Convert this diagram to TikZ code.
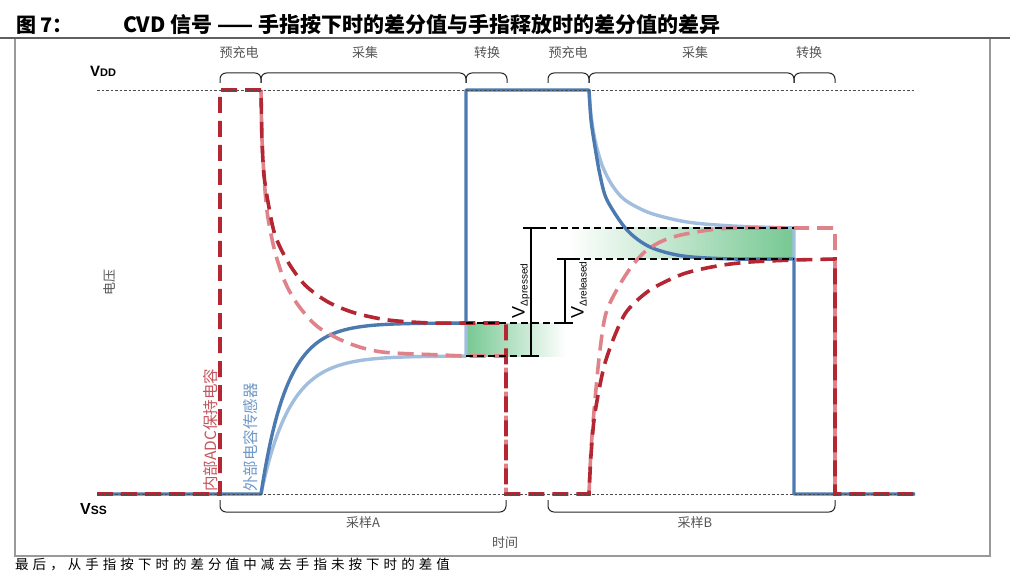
\documentclass[tikz,border=0pt]{standalone}
\usepackage{fontspec}
\setmainfont{Liberation Sans}
\newfontfamily\cjk{Noto Sans CJK SC}
\definecolor{redD}{RGB}{180,38,50}
\definecolor{redL}{RGB}{224,130,138}
\definecolor{blueD}{RGB}{76,122,176}
\definecolor{blueL}{RGB}{162,190,222}
\definecolor{grn}{RGB}{118,200,146}
\definecolor{txtgray}{RGB}{85,85,85}
\definecolor{lblred}{RGB}{196,84,92}
\definecolor{lblblue}{RGB}{112,152,200}
\tikzset{
  reddash/.style={line width=3.6pt, dash pattern=on 16pt off 8pt},
  bluesolid/.style={line width=3.4pt, line join=round},
  refline/.style={line width=0.7pt, gray!60!black, dash pattern=on 2.5pt off 2pt},
  blkdash/.style={line width=1.3pt, black, dash pattern=on 7pt off 4pt},
  blkbar/.style={line width=1.3pt, black},
  brk/.style={line width=1pt, black!85, rounded corners=6pt},
  hdr/.style={font=\cjk\fontsize{13}{13}\selectfont, text=txtgray, inner sep=0pt},
}
\begin{document}
\begin{tikzpicture}[x=1pt,y=-1pt]
\useasboundingbox (0,0) rectangle (1010,572);
% title
\node[anchor=base west, inner sep=0pt] (t1) at (16,33) {\cjk\bfseries\fontsize{20}{20}\selectfont 图 7：};
\node[anchor=base west, inner sep=0pt] (t2) at (123,33) {\cjk\bfseries\fontsize{21}{21}\selectfont CVD 信号 —— 手指按下时的差分值与手指释放时的差分值的差异};
% frame
\draw[line width=1.2pt, gray!80] (15,38) rectangle (990,556);
\draw[line width=1.6pt, gray!75!black] (0,38) -- (1010,38);
% bottom text
\node[anchor=base west, inner sep=0pt] (bt) at (15,569.5) {\cjk\fontsize{13.5}{13.5}\selectfont\addfontfeature{LetterSpace=30} 最后，从手指按下时的差分值中减去手指未按下时的差值};
% green shading
\shade[left color=grn, right color=white] (466,323) rectangle (566,356);
\shade[left color=white, right color=grn] (568,228) rectangle (794,259);
% blue light
\draw[bluesolid, blueL] (261,494) -- plot[domain=261:466, samples=90] (\x,{494-138*(1-exp(-(\x-261)/29))}) -- (466,323);
\draw[bluesolid, blueL] plot[smooth] coordinates {(589,90) (591,115) (595,140) (602,165) (612,185) (625,200) (650,213) (687,222) (733,226) (794,228)} -- (794,259);
% blue dark
\draw[bluesolid, blueD] (97,494) -- (261,494) -- plot[domain=261:466, samples=90] (\x,{494-171*(1-exp(-(\x-261)/26))}) -- (466,90) -- (589,90) -- plot[smooth] coordinates {(589,90) (591,120) (595,147) (600,175) (607,200) (627,230) (650,247) (683,256) (733,259) (794,259)} -- (794,494) -- (915,494);
% red light
\draw[reddash, redL] (261,90) -- plot[smooth] coordinates {(261,90) (262,140) (265,190) (268,218) (275,252) (285,282) (298,305) (318,327) (348,343) (382,352) (442,355) (466,356)} -- (506,356) -- (506,494);
\draw[reddash, redL] (589,494) -- plot[smooth] coordinates {(589,494) (591,450) (595,400) (600,350) (607,310) (627,273) (647,250) (673,237) (717,229) (760,228) (794,228)} -- (835,228) -- (835,494);
% red dark
\draw[reddash, redD] (97,494) -- (220,494) -- (220,90) -- (261,90) -- plot[smooth] coordinates {(261,90) (262,140) (264,175) (268,202) (275,235) (288,262) (305,285) (328,302) (355,313) (388,320) (430,323) (466,323)} -- (506,323) -- (506,494) -- (589,494) -- plot[smooth] coordinates {(589,494) (591,455) (594,420) (599,390) (605,363) (615,335) (627,311) (650,290) (683,274) (717,266) (750,262) (794,260)} -- (835,259) -- (835,494) -- (915,494);
% measurement dashed lines
\draw[blkdash] (539,228) -- (794,228);
\draw[blkdash] (573,259) -- (794,259);
\draw[blkdash] (466,323) -- (557,323);
\draw[blkdash] (466,356) -- (523,356);
% bars
\draw[blkbar] (523,228) -- (539,228) (531,228) -- (531,356) (523,356) -- (539,356);
\draw[blkbar] (557,259) -- (573,259) (565,259) -- (565,323) (557,323) -- (573,323);
\node[rotate=90, inner sep=0pt] (vp) at (521,291) {\fontsize{18}{18}\selectfont V\raisebox{-3pt}{\fontsize{10}{10}\selectfont Δpressed}};
\node[rotate=90, inner sep=0pt] (vr) at (579,290) {\fontsize{18}{18}\selectfont V\raisebox{-3pt}{\fontsize{10}{10}\selectfont Δreleased}};
% reference lines
\draw[refline] (97,90) -- (915,90);
\draw[refline] (97,494) -- (915,494);
\node[anchor=base west, inner sep=0pt] (vdd) at (90,77) {\bfseries\fontsize{15}{15}\selectfont V\fontsize{11}{11}\selectfont DD};
\node[anchor=base west, inner sep=0pt] (vss) at (80,514) {\bfseries\fontsize{16}{16}\selectfont V\fontsize{12}{12}\selectfont SS};
% top braces
\draw[brk] (220,83) -- (220,73) -- (261,73) -- (261,83);
\draw[brk] (261,83) -- (261,73) -- (466,73) -- (466,83);
\draw[brk] (466,83) -- (466,73) -- (507,73) -- (507,83);
\draw[brk] (548,83) -- (548,73) -- (589,73) -- (589,83);
\draw[brk] (589,83) -- (589,73) -- (794,73) -- (794,83);
\draw[brk] (794,83) -- (794,73) -- (835,73) -- (835,83);
\node[hdr] (l1) at (239,53) {预充电};
\node[hdr] (l2) at (365,53) {采集};
\node[hdr] (l3) at (487,53) {转换};
\node[hdr] (l4) at (568,53) {预充电};
\node[hdr] (l5) at (695,53) {采集};
\node[hdr] (l6) at (809,53) {转换};
% bottom braces
\draw[brk] (220,500) -- (220,512) -- (506,512) -- (506,500);
\draw[brk] (548,500) -- (548,512) -- (835,512) -- (835,500);
\node[hdr] (s1) at (363,523) {采样A};
\node[hdr] (s2) at (695,523) {采样B};
\node[hdr] (tm) at (505,543) {时间};
\node[hdr, rotate=90] (vy) at (110,283) {电压};
% curve labels
\node[rotate=90, anchor=west, inner sep=0pt, text=lblred] (lr) at (211,492) {\cjk\fontsize{15.5}{15.5}\selectfont 内部ADC保持电容};
\node[rotate=90, anchor=west, inner sep=0pt, text=lblblue] (lb) at (251,492) {\cjk\fontsize{15.5}{15.5}\selectfont 外部电容传感器};
\end{tikzpicture}
\end{document}
